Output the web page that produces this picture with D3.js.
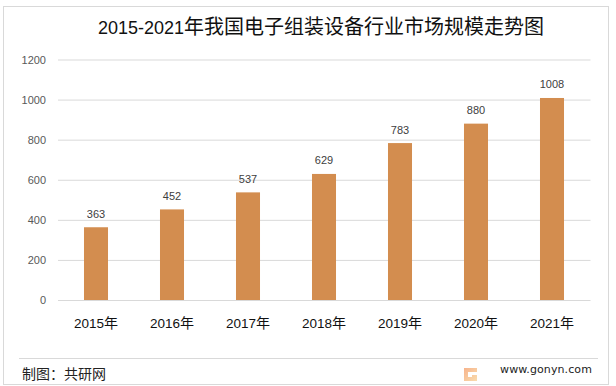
<!DOCTYPE html>
<html>
<head>
<meta charset="utf-8">
<script src="https://cdn.jsdelivr.net/npm/d3@7"></script>
<style>
html, body { margin: 0; padding: 0; background: #fff; }
svg { display: block; }
text { font-family: "Noto Sans CJK SC", sans-serif; }
.latin { font-family: "Liberation Sans", sans-serif; }
.site { font-family: "DejaVu Sans", sans-serif; }
</style>
</head>
<body>
<script>
var width = 616,
    height = 386;

var years = ["2015", "2016", "2017", "2018", "2019", "2020", "2021"];
var values = [363, 452, 537, 629, 783, 880, 1008];
var yTicks = [0, 200, 400, 600, 800, 1000, 1200];

var titleYears = "2015-2021";
var titleRest = "年我国电子组装设备行业市场规模走势图";
var source = "制图：共研网";
var site = "www.gonyn.com";

var xScale = d3.scaleBand()
    .domain(years)
    .range([58, 590])
    .paddingInner(0.684)
    .paddingOuter(0.342);

var yScale = d3.scaleLinear()
    .domain([0, 1200])
    .range([300, 59.5]);

var svg = d3.select("body")
    .append("svg")
    .attr("width", width)
    .attr("height", height);

// frame round the chart
svg.append("rect")
    .attr("x", 3.5)
    .attr("y", 6.5)
    .attr("width", 605)
    .attr("height", 378)
    .attr("fill", "#fff")
    .attr("stroke", "#d9d9d9");

// title, digits and CJK have different sizes
var title = svg.append("text")
    .attr("x", 98)
    .attr("y", 34)
    .attr("fill", "#111");
title.append("tspan")
    .attr("class", "latin")
    .attr("font-size", "18px")
    .text(titleYears);
title.append("tspan")
    .attr("font-size", "20px")
    .text(titleRest);

// gridlines + y axis
var yAxis = d3.axisLeft(yScale)
    .tickValues(yTicks)
    .tickFormat(d3.format("d"))
    .tickSize(-(590.5 - 58))
    .tickPadding(12);

var yG = svg.append("g")
    .attr("transform", "translate(58,0)")
    .call(yAxis);
yG.select(".domain").remove();
yG.selectAll("line").attr("stroke", "#d9d9d9");
yG.selectAll("text")
    .attr("class", "latin")
    .attr("font-size", "11px")
    .attr("fill", "#595959");

// bars
svg.selectAll("rect.bar")
    .data(values)
    .enter()
    .append("rect")
    .attr("class", "bar")
    .attr("x", function(d, i) { return xScale(years[i]); })
    .attr("y", function(d) { return yScale(d); })
    .attr("width", xScale.bandwidth())
    .attr("height", function(d) { return 300 - yScale(d); })
    .attr("fill", "#d38d4f");

// value labels
svg.selectAll("text.val")
    .data(values)
    .enter()
    .append("text")
    .attr("class", "val latin")
    .attr("x", function(d, i) { return xScale(years[i]) + xScale.bandwidth() / 2; })
    .attr("y", function(d) { return yScale(d) - 9.5; })
    .attr("text-anchor", "middle")
    .attr("font-size", "11px")
    .attr("fill", "#404040")
    .text(function(d) { return d; });

// x axis
var xAxis = d3.axisBottom(xScale).tickSize(0).tickPadding(0).tickFormat(function() { return ""; });
var xG = svg.append("g")
    .attr("transform", "translate(0,300)")
    .call(xAxis);
xG.select(".domain").remove();
var xText = xG.selectAll(".tick text")
    .attr("y", 28)
    .attr("dy", 0)
    .attr("fill", "#111");
xText.append("tspan")
    .attr("class", "latin")
    .attr("font-size", "13.5px")
    .text(function(d) { return d; });
xText.append("tspan")
    .attr("font-size", "14px")
    .text("年");

// footer
svg.append("line")
    .attr("x1", 19)
    .attr("x2", 598)
    .attr("y1", 358.5)
    .attr("y2", 358.5)
    .attr("stroke", "#d9d9d9");

svg.append("text")
    .attr("x", 22)
    .attr("y", 379)
    .attr("font-size", "14px")
    .attr("fill", "#222")
    .text(source);

svg.append("text")
    .attr("class", "site")
    .attr("x", 592)
    .attr("y", 373)
    .attr("text-anchor", "end")
    .attr("font-size", "11px")
    .attr("letter-spacing", "0.1px")
    .attr("fill", "#222")
    .text(site);

// small logo
var grad = svg.append("defs").append("linearGradient")
    .attr("id", "logo")
    .attr("x1", 0).attr("x2", 1).attr("y1", 0).attr("y2", 1);
grad.append("stop").attr("offset", 0).attr("stop-color", "#f7b48c");
grad.append("stop").attr("offset", 1).attr("stop-color", "#f9dcae");
svg.append("path")
    .attr("d", "M464 368H477V372H468V377H472V375H477V381H464Z")
    .attr("fill", "url(#logo)");
</script>
</body>
</html>
